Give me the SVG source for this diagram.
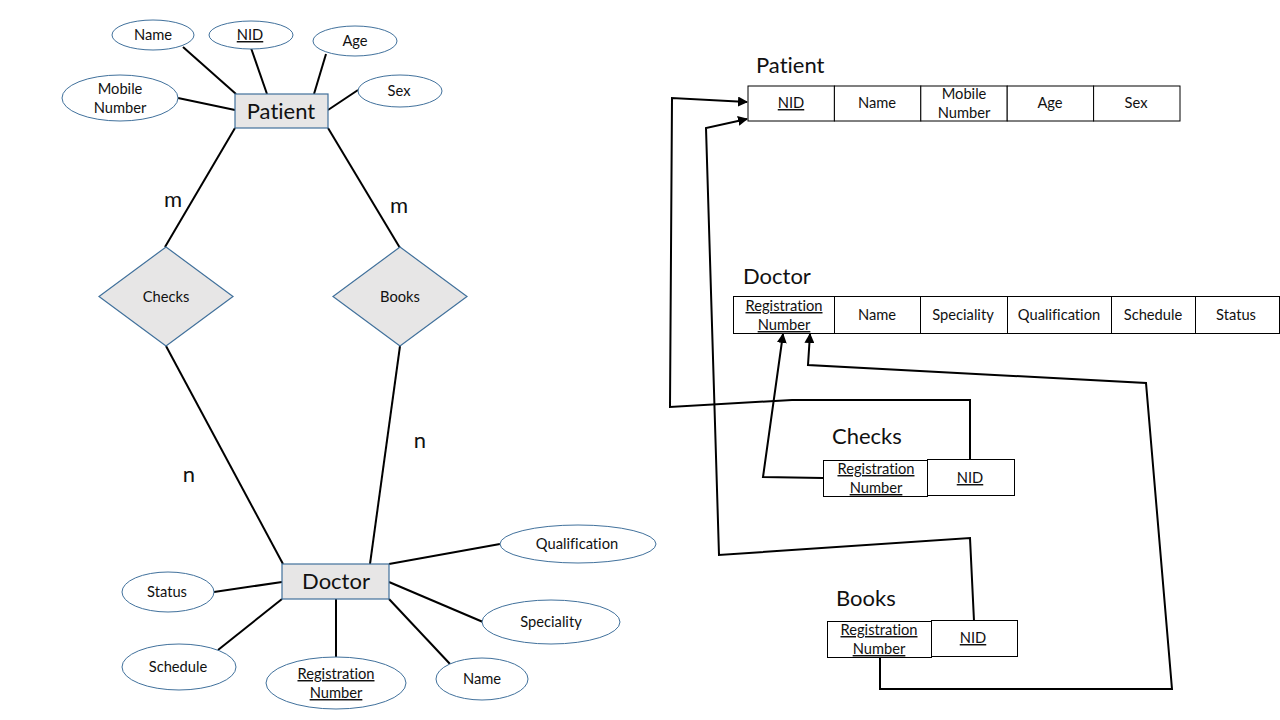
<svg xmlns="http://www.w3.org/2000/svg" width="1280" height="720" viewBox="0 0 1280 720">
<defs>
<marker id="arr" viewBox="0 0 10 10" refX="9" refY="5" markerWidth="5" markerHeight="5" orient="auto-start-reverse" markerUnits="strokeWidth">
<path d="M0,0 L10,5 L0,10 z" fill="#000"/>
</marker>
<style>
text{font-family:Lato,"Open Sans","Liberation Sans",sans-serif;fill:#111;text-anchor:middle;font-variant-ligatures:none}
.attr{fill:#fff;stroke:#41719c;stroke-width:1}
.ent{fill:#e7e6e6;stroke:#41719c;stroke-width:1.2}
.t14{font-size:14.7px}
.big{font-size:22px}
.title{font-size:22px;text-anchor:start}
.u{text-decoration:underline}
.er{stroke:#000;stroke-width:2;fill:none}
.cell{fill:#fff;stroke:#000;stroke-width:1}
.fk{stroke:#000;stroke-width:2;fill:none}
</style>
</defs>
<rect width="1280" height="720" fill="#fff"/>

<g id="connectors">
<line class="er" x1="183" y1="47" x2="236" y2="94"/>
<line class="er" x1="251" y1="48" x2="267" y2="94"/>
<line class="er" x1="326" y1="54" x2="314" y2="94"/>
<line class="er" x1="358" y1="90" x2="328" y2="110"/>
<line class="er" x1="178" y1="98" x2="235" y2="110"/>
<line class="er" x1="235" y1="128" x2="165" y2="247"/>
<line class="er" x1="328" y1="128" x2="400" y2="248"/>
<line class="er" x1="166" y1="346" x2="283" y2="564"/>
<line class="er" x1="400" y1="346" x2="370" y2="564"/>
<line class="er" x1="214" y1="592" x2="282" y2="582"/>
<line class="er" x1="218" y1="650" x2="282" y2="599"/>
<line class="er" x1="336" y1="599" x2="336" y2="657"/>
<line class="er" x1="389" y1="599" x2="450" y2="664"/>
<line class="er" x1="389" y1="582" x2="483" y2="622"/>
<line class="er" x1="389" y1="564" x2="500" y2="544"/>
<polyline class="fk" points="970,460 970,400 792,400 670,407 672,98 747,102" marker-end="url(#arr)"/>
<polyline class="fk" points="974,621 970,538 719,555 706,128 747,119" marker-end="url(#arr)"/>
<polyline class="fk" points="823,478 763,477 783,334" marker-end="url(#arr)"/>
<polyline class="fk" points="880,657 880,689 1172,689 1146,383 808,365 810,334" marker-end="url(#arr)"/>
</g>

<g id="er-patient">
<rect class="ent" x="235" y="94" width="93" height="34"/>
<text class="big" x="281" y="119">Patient</text>
</g>
<g id="er-p-name"><ellipse class="attr" cx="153" cy="35" rx="41" ry="15"/><text class="t14" x="153" y="40">Name</text></g>
<g id="er-p-nid"><ellipse class="attr" cx="251" cy="35" rx="42" ry="14"/><text class="t14 u" x="250" y="40">NID</text></g>
<g id="er-p-age"><ellipse class="attr" cx="355" cy="41" rx="42" ry="15"/><text class="t14" x="355" y="46">Age</text></g>
<g id="er-p-sex"><ellipse class="attr" cx="400" cy="91" rx="42" ry="16"/><text class="t14" x="399" y="96">Sex</text></g>
<g id="er-p-mobile"><ellipse class="attr" cx="120" cy="98" rx="58" ry="23"/><text class="t14" x="120" y="94">Mobile</text><text class="t14" x="120" y="113">Number</text></g>

<g id="er-checks">
<polygon class="ent" points="166,247 233,296.5 166,346 99,296.5"/>
<text class="t14" x="166" y="302">Checks</text>
</g>
<g id="er-books">
<polygon class="ent" points="400,247 467,296.5 400,346 333,296.5"/>
<text class="t14" x="400" y="302">Books</text>
</g>
<g id="card">
<text class="big" x="173" y="207">m</text>
<text class="big" x="399" y="213">m</text>
<text class="big" x="189" y="482">n</text>
<text class="big" x="420" y="448">n</text>
</g>

<g id="er-doctor">
<rect class="ent" x="282" y="564" width="107" height="35"/>
<text class="big" x="336" y="589">Doctor</text>
</g>
<g id="er-d-status"><ellipse class="attr" cx="168" cy="592" rx="46" ry="20"/><text class="t14" x="167" y="597">Status</text></g>
<g id="er-d-schedule"><ellipse class="attr" cx="179" cy="667" rx="57" ry="23"/><text class="t14" x="178" y="672">Schedule</text></g>
<g id="er-d-reg"><ellipse class="attr" cx="336" cy="683" rx="70" ry="26"/><text class="t14 u" x="336" y="679">Registration</text><text class="t14 u" x="336" y="698">Number</text></g>
<g id="er-d-name"><ellipse class="attr" cx="482" cy="679" rx="46" ry="21"/><text class="t14" x="482" y="684">Name</text></g>
<g id="er-d-spec"><ellipse class="attr" cx="551" cy="622" rx="69" ry="22"/><text class="t14" x="551" y="627">Speciality</text></g>
<g id="er-d-qual"><ellipse class="attr" cx="578" cy="544" rx="78" ry="19"/><text class="t14" x="577" y="549">Qualification</text></g>

<g id="tbl-patient">
<text class="title" x="756" y="73">Patient</text>
<rect class="cell" x="748" y="86" width="86.4" height="35"/>
<rect class="cell" x="834.4" y="86" width="86.4" height="35"/>
<rect class="cell" x="920.8" y="86" width="86.4" height="35"/>
<rect class="cell" x="1007.2" y="86" width="86.4" height="35"/>
<rect class="cell" x="1093.6" y="86" width="86.4" height="35"/>
<text class="t14 u" x="791" y="108">NID</text>
<text class="t14" x="877" y="108">Name</text>
<text class="t14" x="964" y="99">Mobile</text>
<text class="t14" x="964" y="118">Number</text>
<text class="t14" x="1050" y="108">Age</text>
<text class="t14" x="1136" y="108">Sex</text>
</g>

<g id="tbl-doctor">
<text class="title" x="743" y="284">Doctor</text>
<rect class="cell" x="733.5" y="296.5" width="101" height="37"/>
<rect class="cell" x="834.5" y="296.5" width="86" height="37"/>
<rect class="cell" x="920.5" y="296.5" width="87" height="37"/>
<rect class="cell" x="1007.5" y="296.5" width="104" height="37"/>
<rect class="cell" x="1111.5" y="296.5" width="84" height="37"/>
<rect class="cell" x="1195.5" y="296.5" width="84" height="37"/>
<text class="t14 u" x="784" y="311">Registration</text>
<text class="t14 u" x="784" y="330">Number</text>
<text class="t14" x="877" y="320">Name</text>
<text class="t14" x="963" y="320">Speciality</text>
<text class="t14" x="1059" y="320">Qualification</text>
<text class="t14" x="1153" y="320">Schedule</text>
<text class="t14" x="1236" y="320">Status</text>
</g>

<g id="tbl-checks">
<text class="title" x="832" y="444">Checks</text>
<rect class="cell" x="823.5" y="460.5" width="104" height="36"/>
<rect class="cell" x="927.5" y="459.5" width="87" height="36"/>
<text class="t14 u" x="876" y="474">Registration</text>
<text class="t14 u" x="876" y="493">Number</text>
<text class="t14 u" x="970" y="483">NID</text>
</g>

<g id="tbl-books">
<text class="title" x="836" y="606">Books</text>
<rect class="cell" x="827.5" y="621.5" width="104" height="36"/>
<rect class="cell" x="931.5" y="620.5" width="86" height="36"/>
<text class="t14 u" x="879" y="635">Registration</text>
<text class="t14 u" x="879" y="654">Number</text>
<text class="t14 u" x="973" y="643">NID</text>
</g>
</svg>
